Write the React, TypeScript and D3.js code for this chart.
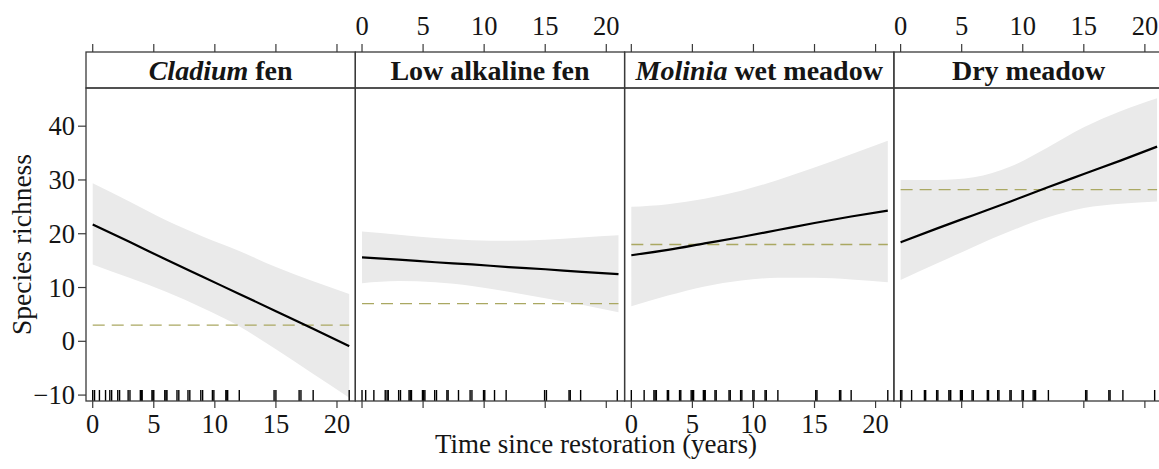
import React from "react";
import * as d3 from "d3";

// Habitat panels (strip labels: italic genus part + plain part)
const stripItalic = ["Cladium", "", "Molinia", ""];
const stripPlain = [" fen", "Low alkaline fen", " wet meadow", "Dry meadow"];

// Years at which the fitted curves and confidence bands are given
const fitYears = [0, 3, 6, 9, 12, 15, 18, 21];

// Fitted species richness
const cladiumFit = [21.7, 18.5, 15.2, 12.0, 8.8, 5.6, 2.4, -0.9];
const lowAlkalineFit = [15.6, 15.2, 14.7, 14.3, 13.8, 13.4, 12.9, 12.5];
const moliniaFit = [16.0, 17.0, 18.2, 19.4, 20.7, 22.0, 23.2, 24.3];
const dryMeadowFit = [18.4, 21.0, 23.5, 26.0, 28.6, 31.1, 33.6, 36.2];

// Confidence band limits
const cladiumUpper = [29.4, 26.0, 22.5, 19.5, 16.8, 13.8, 11.2, 8.8];
const cladiumLower = [14.3, 11.8, 9.2, 6.2, 2.8, -1.5, -6.0, -10.5];
const lowAlkalineUpper = [20.4, 19.8, 19.2, 18.8, 18.7, 18.9, 19.3, 19.7];
const lowAlkalineLower = [10.8, 11.2, 11.0, 10.3, 9.2, 8.0, 6.8, 5.4];
const moliniaUpper = [25.0, 25.5, 26.5, 28.0, 30.0, 32.3, 34.8, 37.3];
const moliniaLower = [6.5, 8.5, 10.2, 11.3, 11.8, 11.8, 11.5, 11.0];
const dryMeadowUpper = [30.0, 30.0, 30.5, 32.5, 36.0, 39.8, 42.8, 45.2];
const dryMeadowLower = [11.4, 14.5, 17.6, 20.5, 23.0, 24.8, 25.6, 26.0];

// Reference-site richness (dashed lines)
const referenceRichness = [3.0, 7.0, 18.0, 28.2];

// Sampled sites: time since restoration (jittered rug)
const cladiumRug = [0, 0.15, 0.55, 1.05, 1.4, 1.55, 2.05, 2.2, 2.9, 3.05, 3.9, 3.98, 4.05, 4.85, 4.93, 5.0, 5.9, 6.0, 6.08, 6.9, 7.05, 7.8, 7.95, 8.85, 9.0, 9.8, 9.92, 10.9, 10.98, 11.05, 12.0, 14.85, 15.0, 16.9, 17.05, 18.05, 21.0];
const lowAlkalineRug = [0.0, 0.3, 0.97, 1.9, 2.05, 2.15, 3.0, 3.15, 3.85, 3.95, 4.05, 4.95, 5.05, 5.15, 5.95, 6.1, 6.95, 7.05, 7.9, 8.85, 9.0, 9.95, 10.05, 10.85, 11.8, 14.95, 15.1, 16.95, 17.05, 17.9, 20.9];
const moliniaRug = [0.0, 1.05, 1.85, 1.95, 2.05, 2.95, 3.05, 3.95, 4.05, 4.9, 5.0, 5.1, 5.9, 6.0, 6.05, 6.85, 6.95, 8.0, 8.1, 8.95, 9.05, 9.95, 10.05, 10.95, 11.05, 12.0, 15.1, 15.2, 17.05, 17.15, 18.0, 21.0];
const dryMeadowRug = [0.0, 0.1, 0.9, 1.95, 2.05, 2.95, 3.05, 3.95, 4.05, 4.1, 4.9, 5.0, 5.05, 5.85, 5.95, 7.1, 7.2, 7.95, 8.05, 8.95, 9.05, 9.95, 10.05, 10.85, 10.95, 11.05, 12.1, 15.15, 15.25, 17.05, 17.15, 18.2, 20.8];

const xTicks = [0, 5, 10, 15, 20];
const yTicks = [-10, 0, 10, 20, 30, 40];

const fits = [cladiumFit, lowAlkalineFit, moliniaFit, dryMeadowFit];
const uppers = [cladiumUpper, lowAlkalineUpper, moliniaUpper, dryMeadowUpper];
const lowers = [cladiumLower, lowAlkalineLower, moliniaLower, dryMeadowLower];
const rugs = [cladiumRug, lowAlkalineRug, moliniaRug, dryMeadowRug];

// Layout
const W = 1159;
const H = 469;
const PANEL_LEFT = 86;
const PANEL_W = 269.3;
const STRIP_TOP = 52;
const STRIP_BOTTOM = 88;
const PANEL_BOTTOM = 401;
const FONT = "Liberation Serif, DejaVu Serif, serif";
const FRAME = "#3a3a3a";
const TEXT = "#151515";

export default function App() {
  const y = d3.scaleLinear().domain([-11.1, 47.1]).range([PANEL_BOTTOM, STRIP_BOTTOM]);

  const panels = fits.map((fit, i) => {
    const left = PANEL_LEFT + i * PANEL_W;
    const x = d3.scaleLinear().domain([-0.55, 21.5]).range([left, left + PANEL_W]);
    const band = d3
      .area<number>()
      .x((_, k) => x(fitYears[k]))
      .y0((_, k) => y(lowers[i][k]))
      .y1((_, k) => y(uppers[i][k]))
      .curve(d3.curveMonotoneX)(fitYears);
    const line = d3
      .line<number>()
      .x((_, k) => x(fitYears[k]))
      .y((v) => y(v))
      .curve(d3.curveMonotoneX)(fit);
    return { i, left, x, band, line };
  });

  const txt = { fontFamily: FONT };

  return (
    <svg
      width={W}
      height={H}
      style={{ position: "absolute", left: 0, top: 0, background: "#fff", fontFamily: FONT }}
    >
      <defs>
        {panels.map((p) => (
          <clipPath id={`clip-${p.i}`} key={p.i}>
            <rect x={p.left} y={STRIP_BOTTOM} width={PANEL_W} height={PANEL_BOTTOM - STRIP_BOTTOM} />
          </clipPath>
        ))}
      </defs>

      {panels.map((p) => (
        <g key={`panel-${p.i}`}>
          <g clipPath={`url(#clip-${p.i})`}>
            <path d={p.band ?? ""} fill="#eaeaea" />
            <line
              x1={p.x(0)}
              x2={p.x(21)}
              y1={y(referenceRichness[p.i])}
              y2={y(referenceRichness[p.i])}
              stroke="#aaa862"
              strokeWidth={1.4}
              strokeDasharray="12 7"
            />
            <path d={p.line ?? ""} fill="none" stroke="#000" strokeWidth={2.2} />
            {rugs[p.i].map((t, k) => (
              <line
                key={k}
                x1={p.x(t)}
                x2={p.x(t)}
                y1={PANEL_BOTTOM - 11}
                y2={PANEL_BOTTOM}
                stroke="#000"
                strokeWidth={1.4}
              />
            ))}
          </g>

          {/* panel and strip frames */}
          <rect
            x={p.left}
            y={STRIP_BOTTOM}
            width={PANEL_W}
            height={PANEL_BOTTOM - STRIP_BOTTOM}
            fill="none"
            stroke={FRAME}
            strokeWidth={1.3}
          />
          <rect
            x={p.left}
            y={STRIP_TOP}
            width={PANEL_W}
            height={STRIP_BOTTOM - STRIP_TOP}
            fill="none"
            stroke={FRAME}
            strokeWidth={1.3}
          />
          <text
            x={p.left + PANEL_W / 2}
            y={79.5}
            textAnchor="middle"
            fontSize={28}
            fontWeight="bold"
            fill={TEXT}
            style={txt}
          >
            {stripItalic[p.i] && <tspan fontStyle="italic">{stripItalic[p.i]}</tspan>}
            <tspan>{stripPlain[p.i]}</tspan>
          </text>

          {/* x ticks top and bottom */}
          {xTicks.map((t) => (
            <g key={`xt-${t}`}>
              <line x1={p.x(t)} x2={p.x(t)} y1={STRIP_TOP} y2={STRIP_TOP - 8} stroke={FRAME} strokeWidth={1.2} />
              <line x1={p.x(t)} x2={p.x(t)} y1={PANEL_BOTTOM} y2={PANEL_BOTTOM + 7} stroke={FRAME} strokeWidth={1.2} />
              {p.i % 2 === 0 ? (
                <text x={p.x(t)} y={433} textAnchor="middle" fontSize={26.5} fill={TEXT} style={txt}>
                  {t}
                </text>
              ) : (
                <text x={p.x(t)} y={35} textAnchor="middle" fontSize={26.5} fill={TEXT} style={txt}>
                  {t}
                </text>
              )}
            </g>
          ))}
        </g>
      ))}

      {/* y axis */}
      {yTicks.map((t) => (
        <g key={`yt-${t}`}>
          <line x1={PANEL_LEFT - 8} x2={PANEL_LEFT} y1={y(t)} y2={y(t)} stroke={FRAME} strokeWidth={1.2} />
          <text x={PANEL_LEFT - 11} y={y(t) + 9} textAnchor="end" fontSize={26.5} fill={TEXT} style={txt}>
            {t < 0 ? `\u2212${Math.abs(t)}` : t}
          </text>
        </g>
      ))}

      <text
        transform={`translate(31, ${(STRIP_BOTTOM + PANEL_BOTTOM) / 2}) rotate(-90)`}
        textAnchor="middle"
        fontSize={27.5}
        fill={TEXT}
        style={txt}
      >
        Species richness
      </text>
      <text x={596} y={453} textAnchor="middle" fontSize={27} fill={TEXT} style={txt}>
        Time since restoration (years)
      </text>
    </svg>
  );
}
